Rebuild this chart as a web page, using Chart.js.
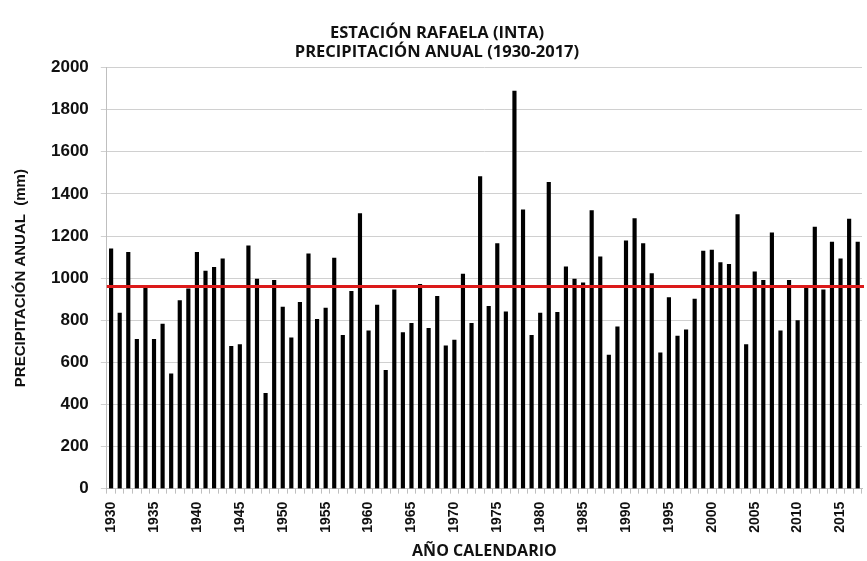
<!DOCTYPE html>
<html>
<head>
<meta charset="utf-8">
<script src="https://cdn.jsdelivr.net/npm/chart.js@4/dist/chart.umd.min.js"></script>
<style>
  html, body { margin: 0; padding: 0; background: #fff; }
  #wrap { width: 867px; height: 561px; }
</style>
</head>
<body>
<div id="wrap"><canvas id="chartRain" width="867" height="561"></canvas></div>
<script>
// años 1930-2017
const years = [
  1930, 1931, 1932, 1933, 1934, 1935, 1936, 1937, 1938, 1939,
  1940, 1941, 1942, 1943, 1944, 1945, 1946, 1947, 1948, 1949,
  1950, 1951, 1952, 1953, 1954, 1955, 1956, 1957, 1958, 1959,
  1960, 1961, 1962, 1963, 1964, 1965, 1966, 1967, 1968, 1969,
  1970, 1971, 1972, 1973, 1974, 1975, 1976, 1977, 1978, 1979,
  1980, 1981, 1982, 1983, 1984, 1985, 1986, 1987, 1988, 1989,
  1990, 1991, 1992, 1993, 1994, 1995, 1996, 1997, 1998, 1999,
  2000, 2001, 2002, 2003, 2004, 2005, 2006, 2007, 2008, 2009,
  2010, 2011, 2012, 2013, 2014, 2015, 2016, 2017,
];
// precipitación anual (mm)
const rainfall = [
  1139, 834, 1123, 709, 956, 709, 782, 545, 893, 949,
  1123, 1033, 1051, 1092, 676, 684, 1153, 995, 453, 989,
  863, 716, 885, 1115, 804, 858, 1095, 728, 937, 1307,
  750, 872, 562, 945, 741, 785, 970, 762, 913, 679,
  706, 1019, 785, 1482, 866, 1164, 840, 1889, 1325, 728,
  834, 1455, 837, 1054, 995, 978, 1321, 1101, 635, 769,
  1177, 1283, 1164, 1022, 645, 908, 725, 754, 900, 1128,
  1133, 1074, 1066, 1302, 684, 1030, 989, 1215, 750, 989,
  798, 957, 1242, 945, 1171, 1092, 1280, 1171,
];
const meanRainfall = 960;
const yTicks = [0, 200, 400, 600, 800, 1000, 1200, 1400, 1600, 1800, 2000];
const labelEvery = 5;

const sans = "'Liberation Sans', Arial, sans-serif";
const narrow = "'Liberation Sans Narrow', 'Open Sans', sans-serif";

const meanLine = {
  id: "meanLine",
  afterDatasetsDraw(chart) {
    const { ctx, chartArea, scales } = chart;
    const y = scales.y.getPixelForValue(meanRainfall);
    ctx.save();
    ctx.strokeStyle = "#dc1a1a";
    ctx.lineWidth = 3;
    ctx.beginPath();
    ctx.moveTo(chartArea.left, y);
    ctx.lineTo(chartArea.right + 2, y);
    ctx.stroke();
    ctx.restore();
  },
};

new Chart(document.getElementById("chartRain"), {
  type: "bar",
  data: {
    labels: years.map(String),
    datasets: [
      { label: "Precipitación anual", data: rainfall, backgroundColor: "#000", barThickness: 3.5 },
    ],
  },
  options: {
    responsive: false,
    animation: false,
    layout: { padding: { top: 17, right: 5, left: 12, bottom: 0 } },
    plugins: {
      legend: { display: false },
      tooltip: { enabled: false },
      title: {
        display: true,
        text: ["ESTACIÓN RAFAELA (INTA)", "PRECIPITACIÓN ANUAL (1930-2017)"],
        color: "#111",
        font: { family: narrow, size: 16.5, weight: "bold" },
        lineHeight: 1.32,
        padding: { top: 6, bottom: 5 },
      },
    },
    scales: {
      x: {
        afterFit: (axis) => { axis.paddingRight = 0; },
        grid: { display: true, drawOnChartArea: false, tickLength: 5, color: "#bfbfbf" },
        border: { color: "#bfbfbf" },
        ticks: {
          autoSkip: false,
          maxRotation: 90,
          minRotation: 90,
          color: "#111",
          font: { family: sans, size: 14, weight: "bold" },
          padding: 8,
          callback: (v, i) => ((years[i] - years[0]) % labelEvery === 0 ? years[i] : ""),
        },
        title: {
          display: true,
          text: "AÑO CALENDARIO",
          color: "#111",
          font: { family: narrow, size: 16, weight: "bold" },
          padding: { top: 1, bottom: 0 },
        },
      },
      y: {
        min: 0,
        max: 2000,
        afterBuildTicks: (axis) => { axis.ticks = yTicks.map((v) => ({ value: v })); },
        grid: { color: "#d0d0d0", tickLength: 6 },
        border: { color: "#bfbfbf" },
        ticks: {
          color: "#111",
          font: { family: sans, size: 17, weight: "bold" },
          padding: 12,
          callback: (v) => String(v),
        },
        title: {
          display: true,
          text: "PRECIPITACIÓN ANUAL  (mm)",
          color: "#111",
          font: { family: sans, size: 15, weight: "bold" },
          padding: { top: 0, bottom: 9 },
        },
      },
    },
  },
  plugins: [meanLine],
});
</script>
</body>
</html>
